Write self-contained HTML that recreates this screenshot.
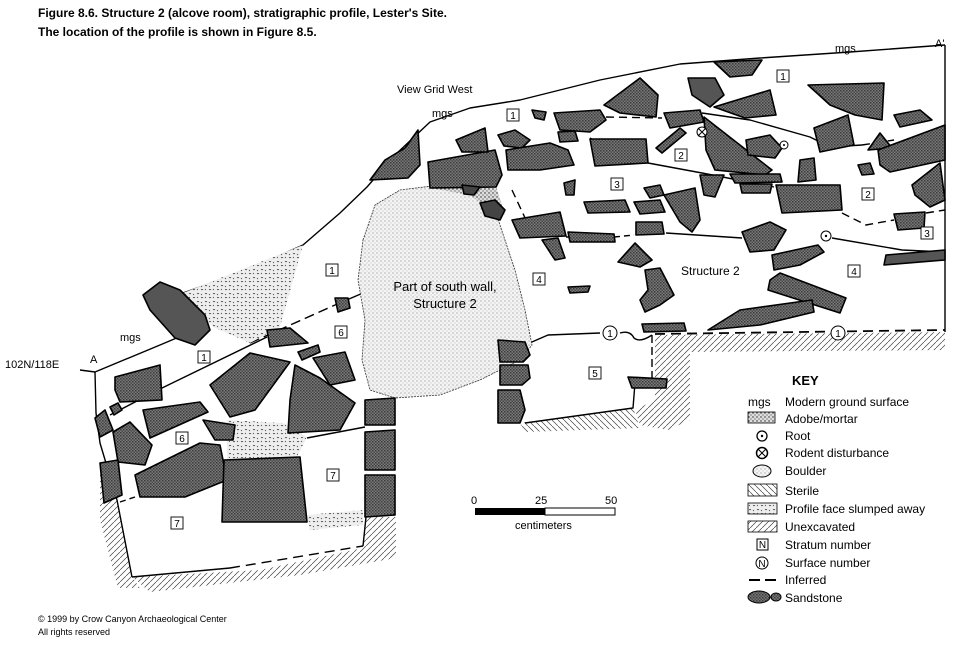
<!DOCTYPE html>
<html><head><meta charset="utf-8"><style>
html,body{margin:0;padding:0;background:#fff}
svg{display:block;font-family:"Liberation Sans",Arial,sans-serif}
</style></head><body>
<svg width="969" height="645" viewBox="0 0 969 645" xmlns="http://www.w3.org/2000/svg">
<defs>
<pattern id="st" width="3" height="3" patternUnits="userSpaceOnUse"><rect width="3" height="3" fill="#7a7a7a"/><rect width="1.5" height="1.5" fill="#3a3a3a"/><rect x="1.5" y="1.5" width="1.5" height="1.5" fill="#4a4a4a"/></pattern>
<pattern id="hat" width="6" height="6" patternUnits="userSpaceOnUse"><path d="M0,6 L6,0" stroke="#444" stroke-width="0.7"/></pattern>
<pattern id="ster" width="6" height="6" patternUnits="userSpaceOnUse"><path d="M0,0 L6,6" stroke="#444" stroke-width="0.7"/></pattern>
<pattern id="dot" width="4" height="4" patternUnits="userSpaceOnUse"><rect width="4" height="4" fill="#f4f4f4"/><circle cx="1" cy="1" r="0.5" fill="#555"/><circle cx="3" cy="3" r="0.4" fill="#777"/></pattern>
<pattern id="slump" width="8" height="8" patternUnits="userSpaceOnUse"><rect width="8" height="8" fill="#eee"/><path d="M1,2 q1,-1 2,0 M5,6 q1,-1 2,0 M5,1 l1,1 M1,6 l1,1" stroke="#333" stroke-width="0.7" fill="none"/></pattern>
<pattern id="ado" width="4" height="4" patternUnits="userSpaceOnUse"><rect width="4" height="4" fill="#ddd"/><circle cx="1" cy="1" r="0.7" fill="#222"/><circle cx="3" cy="3" r="0.6" fill="#444"/></pattern>
</defs>
<g font-weight="bold" font-size="12" fill="#000">
<text x="38" y="17">Figure 8.6.  Structure 2 (alcove room), stratigraphic profile, Lester's Site.</text>
<text x="38" y="36">The location of the profile is shown in Figure 8.5.</text>
</g>

<g stroke="none">
<path d="M100,460 L117,500 L132,577 L140,588 L118,588 L100,520 Z" fill="url(#hat)"/>
<path d="M132,577 L260,570 L363,548 L366,517 L396,517 L396,558 L300,575 L150,592 Z" fill="url(#hat)"/>
<path d="M655,335 L945,332 L945,350 L690,352 L690,420 L668,430 L640,425 L635,410 L655,400 Z" fill="url(#hat)"/>
<path d="M520,423 L633,408 L640,428 L525,432 Z" fill="url(#ster)"/>
</g>

<g fill="none" stroke="#000" stroke-width="1.4" stroke-linejoin="round">
<path d="M80,370 L95,372 L160,345 L205,326"/>
<path d="M183,293 L247,270 L303,245 L340,213 L367,187 L395,155 L430,122 L470,108 L520,100 L600,80 L680,64 L760,58 L850,52 L945,45"/>
<path d="M945,45 L945,332"/>
<path d="M95,372 L96,413 L100,443 L117,500 L132,577"/>
<path d="M132,577 L230,568"/>
<path d="M230,568 L363,546" stroke-dasharray="10,6"/>
<path d="M363,546 L366,517"/>
<path d="M525,423 L633,408 L635,383"/>
<path d="M652,335 L652,380" stroke-dasharray="8,4"/>
<path d="M250,343 L335,305" stroke-dasharray="10,5"/>
<path d="M335,305 L363,293"/>
<path d="M110,415 L162,388 L267,337"/>
<path d="M307,438 L365,427"/>
<path d="M120,502 L135,497" stroke-dasharray="6,4"/>
<path d="M606,117 L662,118" stroke-dasharray="8,5"/>
<path d="M702,113 L750,120 L810,137 L830,147 L862,145"/>
<path d="M862,145 L894,140" stroke-dasharray="8,5"/>
<path d="M590,138 L610,150" stroke-dasharray="6,4"/>
<path d="M648,163 L702,173 L774,187"/>
<path d="M842,213 L866,225 L894,220" stroke-dasharray="8,5"/>
<path d="M926,213 L945,210" stroke-dasharray="8,5"/>
<path d="M512,190 L526,220" stroke-dasharray="8,5"/>
<path d="M566,237 L614,237"/>
<path d="M614,237 L634,235" stroke-dasharray="6,4"/>
<path d="M666,233 L742,238"/>
<path d="M832,238 L902,250 L945,252"/>
<path d="M525,345 L548,335 L600,333"/>
<path d="M620,333 Q630,330 634,338 Q640,343 652,335"/>
<path d="M655,334 L945,330" stroke-dasharray="10,6" stroke-width="1.8"/>
</g>

<path d="M183,293 L303,245 L280,327 L250,343 L213,327 Z" fill="url(#slump)"/>
<path d="M227,420 L283,423 L307,437 L297,457 L227,467 Z" fill="url(#slump)"/>
<path d="M307,515 L363,510 L363,525 L310,530 Z" fill="url(#slump)"/>

<path d="M363,240 L375,205 L400,190 L440,185 L475,190 L495,210 L505,240 L515,270 L525,310 L532,345 L520,360 L480,380 L440,395 L395,398 L370,390 L362,360 L365,320 L358,280 Z" fill="url(#dot)" stroke="#333" stroke-width="0.8" stroke-dasharray="2,1"/>
<path d="M430,188 L495,183 L505,215 L490,210 L470,195 Z" fill="url(#ado)"/>
<text x="445" y="291" font-size="13" text-anchor="middle">Part of south wall,</text>
<text x="445" y="308" font-size="13" text-anchor="middle">Structure 2</text>

<g fill="url(#st)" stroke="#000" stroke-width="1.6" stroke-linejoin="round">
<path d="M143,295 L160,282 L180,290 L205,315 L210,330 L195,345 L175,338 L150,310 Z" fill="#555"/>
<path d="M370,180 L385,160 L405,148 L418,130 L420,165 L408,178 Z"/>
<path d="M428,162 L495,150 L502,175 L496,187 L430,188 Z"/>
<path d="M456,140 L485,128 L488,152 L462,152 Z"/>
<path d="M498,135 L515,130 L530,140 L522,148 L504,146 Z"/>
<path d="M506,150 L550,143 L568,150 L574,165 L540,170 L508,170 Z"/>
<path d="M532,110 L546,112 L544,120 L535,118 Z"/>
<path d="M554,113 L600,110 L606,120 L590,132 L560,130 Z"/>
<path d="M558,132 L575,131 L578,141 L560,142 Z"/>
<path d="M590,139 L646,139 L648,163 L595,166 Z"/>
<path d="M604,105 L640,78 L658,95 L656,117 L620,113 Z"/>
<path d="M714,62 L762,60 L752,75 L730,77 Z"/>
<path d="M688,78 L715,78 L724,95 L710,107 L692,95 Z" fill="#555"/>
<path d="M714,107 L770,90 L776,115 L745,118 Z"/>
<path d="M664,113 L700,110 L704,122 L670,128 Z"/>
<path d="M656,148 L680,128 L686,133 L662,153 Z"/>
<path d="M704,117 L772,170 L765,175 L715,170 L706,150 Z"/>
<path d="M746,140 L770,135 L782,148 L775,158 L748,155 Z"/>
<path d="M700,175 L724,175 L715,197 L704,195 Z"/>
<path d="M730,174 L780,174 L782,182 L735,183 Z"/>
<path d="M740,184 L772,184 L770,193 L742,193 Z"/>
<path d="M776,185 L840,185 L842,210 L782,213 Z"/>
<path d="M800,160 L814,158 L816,180 L798,182 Z"/>
<path d="M808,85 L884,83 L882,120 L855,115 L830,105 Z"/>
<path d="M814,128 L848,115 L854,145 L820,152 Z"/>
<path d="M894,115 L920,110 L932,120 L900,127 Z"/>
<path d="M868,150 L880,133 L892,148 Z"/>
<path d="M858,165 L870,163 L874,174 L862,175 Z"/>
<path d="M878,150 L945,125 L945,160 L890,172 L880,165 Z"/>
<path d="M912,185 L940,163 L945,200 L930,207 L915,195 Z"/>
<path d="M894,214 L925,212 L924,228 L898,230 Z"/>
<path d="M886,255 L945,250 L945,260 L884,265 Z" fill="#555"/>
<path d="M772,255 L818,245 L824,252 L800,265 L774,270 Z"/>
<path d="M742,232 L770,222 L786,230 L774,250 L750,252 Z"/>
<path d="M770,280 L780,273 L846,298 L840,313 L768,290 Z"/>
<path d="M708,330 L740,310 L812,300 L814,312 L760,325 Z"/>
<path d="M642,324 L684,323 L686,331 L644,332 Z"/>
<path d="M645,270 L660,268 L674,295 L660,305 L645,312 L640,300 L648,290 Z"/>
<path d="M618,262 L635,243 L652,260 L640,267 Z"/>
<path d="M664,195 L695,188 L700,220 L692,232 L680,222 Z"/>
<path d="M634,202 L660,200 L665,212 L640,214 Z"/>
<path d="M644,188 L660,185 L664,195 L650,198 Z"/>
<path d="M584,202 L625,200 L630,212 L588,213 Z"/>
<path d="M564,183 L575,180 L574,195 L566,195 Z"/>
<path d="M636,222 L662,222 L664,234 L636,235 Z"/>
<path d="M568,232 L614,234 L615,242 L570,242 Z"/>
<path d="M512,220 L560,212 L566,236 L520,238 Z"/>
<path d="M542,240 L558,238 L565,258 L555,260 Z"/>
<path d="M568,287 L590,286 L588,292 L570,293 Z"/>
<path d="M462,185 L480,187 L474,195 L464,194 Z" fill="#444"/>
<path d="M480,203 L495,200 L505,210 L500,220 L485,216 Z" fill="#444"/>
<path d="M498,340 L525,342 L530,355 L523,362 L500,362 Z"/>
<path d="M500,365 L528,365 L530,378 L522,385 L500,385 Z"/>
<path d="M498,390 L520,390 L525,410 L520,423 L498,423 Z"/>
<path d="M628,377 L667,379 L666,388 L632,388 Z"/>
<path d="M115,377 L160,365 L162,400 L120,402 L115,390 Z"/>
<path d="M110,407 L118,403 L122,410 L114,415 Z"/>
<path d="M95,418 L105,410 L113,430 L100,437 Z"/>
<path d="M113,432 L130,422 L152,445 L145,465 L118,462 Z"/>
<path d="M143,410 L200,402 L208,412 L150,438 Z"/>
<path d="M210,385 L250,353 L290,362 L255,410 L230,417 Z"/>
<path d="M267,330 L290,328 L308,343 L270,347 Z"/>
<path d="M203,420 L235,425 L233,440 L215,440 Z"/>
<path d="M135,475 L200,443 L220,445 L227,480 L185,497 L140,497 Z"/>
<path d="M100,463 L118,460 L122,495 L104,503 Z"/>
<path d="M295,365 L320,378 L355,403 L340,430 L288,433 L290,400 Z"/>
<path d="M313,358 L345,352 L355,380 L330,385 Z"/>
<path d="M298,352 L318,345 L320,352 L302,360 Z"/>
<path d="M224,460 L300,457 L307,522 L222,522 Z"/>
<path d="M365,400 L395,398 L395,425 L365,425 Z"/>
<path d="M365,432 L395,430 L395,470 L365,470 Z"/>
<path d="M365,475 L395,475 L395,515 L365,517 Z"/>
<path d="M335,298 L348,298 L350,308 L338,312 Z"/>
</g>

<g fill="#fff" stroke="#000" stroke-width="1">
<circle cx="702" cy="132" r="5"/>
<circle cx="784" cy="145" r="4"/>
<circle cx="826" cy="236" r="5"/>
<circle cx="610" cy="333" r="7"/>
<circle cx="838" cy="333" r="7"/>
</g>
<path d="M698,128 L706,136 M706,128 L698,136" stroke="#000"/>
<circle cx="784" cy="145" r="1" fill="#000"/><circle cx="826" cy="236" r="1.2" fill="#000"/>
<g font-size="10" text-anchor="middle"><text x="610" y="337">1</text><text x="838" y="337">1</text></g>

<g fill="#fff" stroke="#000" stroke-width="0.9">
<rect x="507" y="109" width="12" height="12"/><rect x="777" y="70" width="12" height="12"/>
<rect x="675" y="149" width="12" height="12"/><rect x="611" y="178" width="12" height="12"/>
<rect x="862" y="188" width="12" height="12"/><rect x="921" y="227" width="12" height="12"/>
<rect x="533" y="273" width="12" height="12"/><rect x="848" y="265" width="12" height="12"/>
<rect x="589" y="367" width="12" height="12"/><rect x="326" y="264" width="12" height="12"/>
<rect x="335" y="326" width="12" height="12"/><rect x="198" y="351" width="12" height="12"/>
<rect x="176" y="432" width="12" height="12"/><rect x="327" y="469" width="12" height="12"/>
<rect x="171" y="517" width="12" height="12"/>
</g>
<g font-size="10" text-anchor="middle">
<text x="513" y="119">1</text><text x="783" y="80">1</text><text x="681" y="159">2</text><text x="617" y="188">3</text>
<text x="868" y="198">2</text><text x="927" y="237">3</text><text x="539" y="283">4</text><text x="854" y="275">4</text>
<text x="595" y="377">5</text><text x="332" y="274">1</text><text x="341" y="336">6</text><text x="204" y="361">1</text>
<text x="182" y="442">6</text><text x="333" y="479">7</text><text x="177" y="527">7</text>
</g>

<g font-size="11">
<text x="5" y="368">102N/118E</text>
<text x="90" y="363">A</text>
<text x="935" y="47">A'</text>
<text x="120" y="341">mgs</text>
<text x="432" y="117">mgs</text>
<text x="835" y="52">mgs</text>
<text x="397" y="93">View Grid West</text>
<text x="681" y="275" font-size="12">Structure 2</text>
</g>

<g font-size="11">
<text x="471" y="504">0</text><text x="535" y="504">25</text><text x="605" y="504">50</text>
<rect x="475" y="508" width="70" height="7" fill="#000"/>
<rect x="545" y="508" width="70" height="7" fill="#fff" stroke="#000"/>
<text x="515" y="529">centimeters</text>
</g>

<g font-size="12">
<text x="792" y="385" font-weight="bold" font-size="13">KEY</text>
<text x="748" y="406">mgs</text><text x="785" y="406">Modern ground surface</text>
<rect x="748" y="412" width="27" height="11" fill="url(#ado)" stroke="#000" stroke-width="0.8"/><text x="785" y="423">Adobe/mortar</text>
<circle cx="762" cy="436" r="5" fill="#fff" stroke="#000" stroke-width="1.3"/><circle cx="762" cy="436" r="1.2"/><text x="785" y="440">Root</text>
<circle cx="762" cy="453" r="5.5" fill="#fff" stroke="#000" stroke-width="1.5"/><path d="M758,449 L766,457 M766,449 L758,457" stroke="#000"/><text x="785" y="457">Rodent disturbance</text>
<ellipse cx="762" cy="471" rx="9" ry="6" fill="url(#dot)" stroke="#000"/><text x="785" y="475">Boulder</text>
<rect x="748" y="484" width="29" height="12" fill="url(#ster)" stroke="#000" stroke-width="0.8"/><text x="785" y="495">Sterile</text>
<rect x="748" y="503" width="29" height="11" fill="url(#slump)" stroke="#000" stroke-width="0.8"/><text x="785" y="513">Profile face slumped  away</text>
<rect x="748" y="521" width="29" height="11" fill="url(#hat)" stroke="#000" stroke-width="0.8"/><text x="785" y="531">Unexcavated</text>
<rect x="757" y="539" width="11" height="11" fill="#fff" stroke="#000"/><text x="762.5" y="548" font-size="10" text-anchor="middle">N</text><text x="785" y="549">Stratum number</text>
<circle cx="762" cy="563" r="6" fill="#fff" stroke="#000"/><text x="762" y="567" font-size="10" text-anchor="middle">N</text><text x="785" y="567">Surface number</text>
<path d="M749,580 L760,580 M765,580 L776,580" stroke="#000" stroke-width="2"/><text x="785" y="584">Inferred</text>
<ellipse cx="759" cy="597" rx="11" ry="6" fill="url(#st)" stroke="#000"/><ellipse cx="776" cy="597" rx="5" ry="4" fill="url(#st)" stroke="#000"/><text x="785" y="602">Sandstone</text>
</g>

<g font-size="9">
<text x="38" y="622">© 1999 by Crow Canyon Archaeological Center</text>
<text x="38" y="635">All rights reserved</text>
</g>
</svg>
</body></html>
